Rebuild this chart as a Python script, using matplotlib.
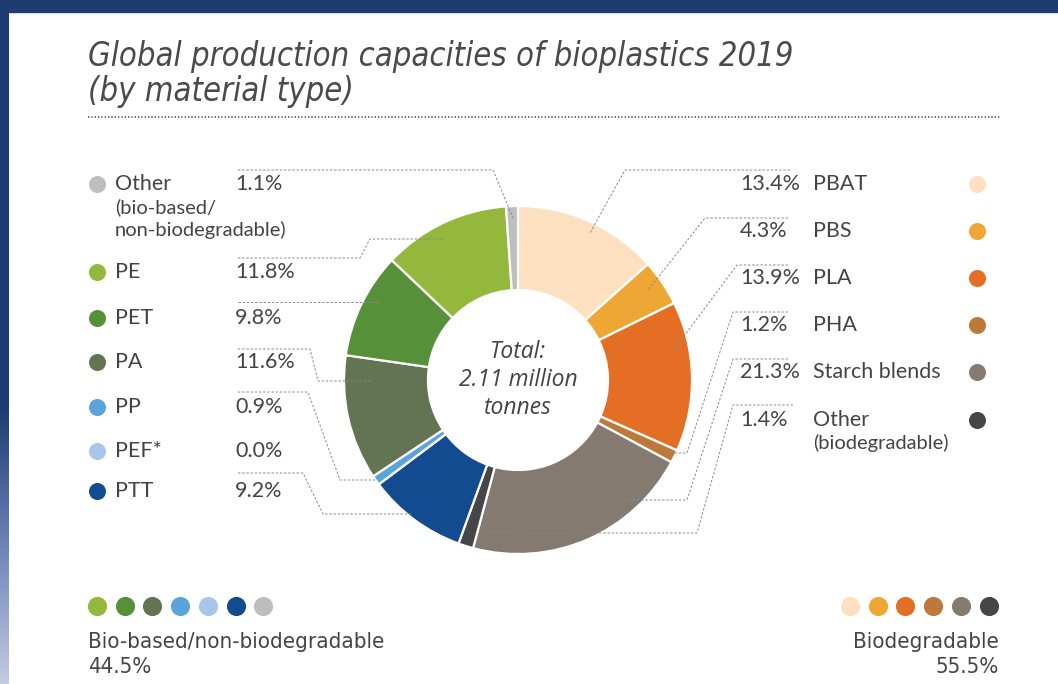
import matplotlib
matplotlib.use("Agg")
import matplotlib.pyplot as plt
import numpy as np
from matplotlib.patches import Rectangle
from matplotlib.colors import LinearSegmentedColormap

# ---------------- data ----------------
materials = ["PBAT", "PBS", "PLA", "PHA", "Starch blends", "Other (biodegradable)",
             "PTT", "PEF*", "PP", "PA", "PET", "PE", "Other (bio-based/non-biodegradable)"]
shares = [13.4, 4.3, 13.9, 1.2, 21.3, 1.4, 9.2, 0.0, 0.9, 11.6, 9.8, 11.8, 1.1]
colors = ["#FCE0BF", "#EEA735", "#E46E24", "#BD783A", "#847A70", "#464646",
          "#124B90", "#A8C6E9", "#5BA4DB", "#627452", "#56913A", "#93B83B", "#BEBEBE"]

left_names = ["Other", "PE", "PET", "PA", "PP", "PEF*", "PTT"]
left_sub = ["(bio-based/\nnon-biodegradable)", "", "", "", "", "", ""]
left_vals = [1.1, 11.8, 9.8, 11.6, 0.9, 0.0, 9.2]
left_cols = ["#BEBEBE", "#93B83B", "#56913A", "#627452", "#5BA4DB", "#A8C6E9", "#124B90"]

right_names = ["PBAT", "PBS", "PLA", "PHA", "Starch blends", "Other"]
right_sub = ["", "", "", "", "", "(biodegradable)"]
right_vals = [13.4, 4.3, 13.9, 1.2, 21.3, 1.4]
right_cols = ["#FCE0BF", "#EEA735", "#E46E24", "#BD783A", "#847A70", "#464646"]

group_labels = ["Bio-based/non-biodegradable", "Biodegradable"]
group_totals = [44.5, 55.5]
bottom_left_cols = ["#93B83B", "#56913A", "#627452", "#5BA4DB", "#A8C6E9", "#124B90", "#BEBEBE"]
bottom_right_cols = ["#FCE0BF", "#EEA735", "#E46E24", "#BD783A", "#847A70", "#464646"]

title = "Global production capacities of bioplastics 2019\n(by material type)"
center_text = "Total:\n2.11 million\ntonnes"

# ---------------- figure ----------------
W, H = 1058, 684
fig = plt.figure(figsize=(W / 100, H / 100), dpi=100)
ax = fig.add_axes([0, 0, 1, 1])
ax.axis("off")

# frame
ax.add_patch(Rectangle((0, 0), W, 12, color="#1E3C71", zorder=0))
grad = np.linspace(0, 1, 256).reshape(-1, 1)
cm = LinearSegmentedColormap.from_list(
    "g", [(0, "#1E3C71"), (0.6, "#1E3C71"), (0.8, "#6E84B8"), (1, "#C3CBE3")])
ax.imshow(grad, cmap=cm, extent=(0, 9, H, 0), aspect="auto", zorder=0)

txt = "#444444"
label_font = "Lato"

# title
ax.text(88, 101, title, fontsize=23.5, fontstyle="italic", family="DejaVu Sans",
        fontstretch="condensed", color="#4a4a4a", va="baseline", ha="left",
        linespacing=1.07)
ax.plot([88, 1000], [117, 117], color="#555555", lw=1.2, ls=(0, (0.8, 1.2)))

# donut
cx, cy, R, r = 518, 380, 174, 90
ax.pie(shares, colors=colors, startangle=-90, counterclock=True, radius=R,
       center=(cx, cy), wedgeprops=dict(width=R - r, edgecolor="white", linewidth=1.6))
ax.text(cx, cy, center_text, ha="center", va="center", fontsize=16.5, fontstyle="italic",
        family="Open Sans", color=txt, linespacing=1.2)

# left legend
left_y = [184, 272, 318, 362, 407, 451, 491]
for yy, name, sub, v, c in zip(left_y, left_names, left_sub, left_vals, left_cols):
    ax.scatter([97], [yy], s=150, color=c, linewidths=0, zorder=3)
    ax.text(115, yy, name, fontsize=15.5, family=label_font, color=txt, va="center", ha="left")
    ax.text(235, yy, f"{v:.1f}%", fontsize=15.5, family=label_font, color=txt, va="center", ha="left")
    if sub:
        for k, line in enumerate(sub.split("\n")):
            ax.text(115, yy + 23 * (k + 1), line, fontsize=14.5, family=label_font, color=txt,
                    va="center", ha="left")

# right legend
right_y = [184, 231, 278, 325, 372, 420]
for yy, name, sub, v, c in zip(right_y, right_names, right_sub, right_vals, right_cols):
    ax.scatter([977], [yy], s=150, color=c, linewidths=0, zorder=3)
    ax.text(740, yy, f"{v:.1f}%", fontsize=15.5, family=label_font, color=txt, va="center", ha="left")
    ax.text(813, yy, name, fontsize=15.5, family=label_font, color=txt, va="center", ha="left")
    if sub:
        ax.text(813, yy + 23, sub, fontsize=14.5, family=label_font, color=txt, va="center", ha="left")

# leader lines
leaders = [
    [(238, 170), (493, 170), (513, 218)],
    [(238, 258), (360, 258), (370, 239), (445, 239)],
    [(238, 302), (380, 302)],
    [(238, 349), (310, 349), (318, 381), (373, 381)],
    [(238, 392), (308, 392), (340, 480), (377, 480)],
    [(238, 473), (303, 473), (323, 514), (412, 514)],
    [(790, 170), (625, 170), (590, 233)],
    [(788, 218), (705, 218), (648, 290)],
    [(788, 265), (737, 265), (670, 355)],
    [(788, 312), (733, 312), (687, 453), (675, 453)],
    [(788, 359), (733, 359), (687, 500), (620, 500)],
    [(793, 405), (733, 405), (697, 533), (482, 533)],
]
for pts in leaders:
    xs, ys = zip(*pts)
    ax.plot(xs, ys, color="#8a8a8a", lw=0.7, ls=(0, (2.5, 1.8)), zorder=4)

# bottom group legend
for i, c in enumerate(bottom_left_cols):
    ax.scatter([97 + i * 27.7], [606], s=190, color=c, linewidths=0)
for i, c in enumerate(bottom_right_cols):
    ax.scatter([850 + i * 27.7], [606], s=190, color=c, linewidths=0)
bfont = dict(fontsize=16, family="DejaVu Sans", fontstretch="condensed", color=txt, va="center")
ax.text(88, 642, group_labels[0], ha="left", **bfont)
ax.text(88, 667, f"{group_totals[0]:.1f}%", ha="left", **bfont)
ax.text(999, 642, group_labels[1], ha="right", **bfont)
ax.text(999, 667, f"{group_totals[1]:.1f}%", ha="right", **bfont)

ax.set_xlim(0, W)
ax.set_ylim(H, 0)
ax.set_aspect("equal")

fig.savefig("out.png", dpi=100)
